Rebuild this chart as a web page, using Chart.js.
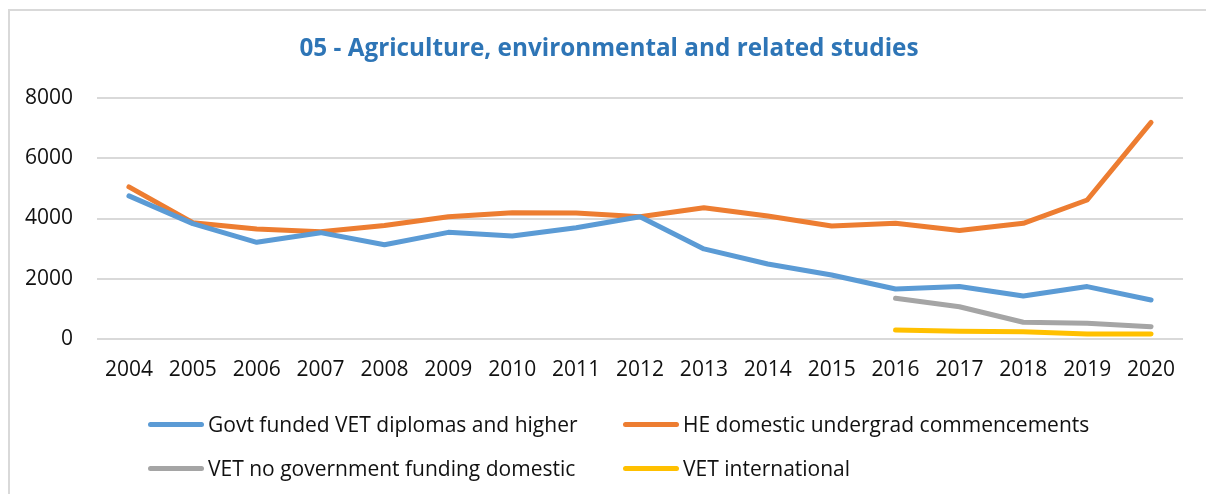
<!DOCTYPE html>
<html>
<head>
<meta charset="utf-8">
<script src="https://cdn.jsdelivr.net/npm/chart.js@4.4.1/dist/chart.umd.min.js"></script>
<style>
  html, body { margin: 0; padding: 0; background: #fff; overflow: hidden; }
  #wrap { position: relative; width: 1206px; height: 494px; }
  #frame { position: absolute; left: 8px; top: 9px; width: 1300px; height: 600px;
           border-left: 2px solid #d9d9d9; border-top: 2px solid #d9d9d9; }
  #chart { position: absolute; left: 0; top: 0; }
  #title { position: absolute; left: 209px; width: 800px; top: 31px; text-align: center;
           font-family: "Open Sans", sans-serif; font-size: 24.3px; font-weight: bold; color: #2E75B6;
           line-height: 32px; white-space: nowrap; }
  .leg { position: absolute; font-family: "Open Sans", sans-serif; font-size: 21px; color: #111;
         display: flex; align-items: center; white-space: nowrap; }
  .leg span.swatch { display: inline-block; width: 56px; height: 5px; border-radius: 3px; margin-right: 4px; }
</style>
</head>
<body>
<div id="wrap">
  <div id="frame"></div>
  <canvas id="chart" width="1206" height="494"></canvas>
  <div id="title"></div>
  <div id="legend"></div>
</div>
<script>
/* ---------------------------------------------------
   data
----------------------------------------------------- */
var chartTitle = "05 - Agriculture, environmental and related studies";
var years = ["2004","2005","2006","2007","2008","2009","2010","2011","2012","2013","2014","2015","2016","2017","2018","2019","2020"];
var govtVet    = [4750, 3830, 3210, 3530, 3130, 3540, 3420, 3695, 4060, 2990, 2490, 2125, 1660, 1740, 1430, 1740, 1295];
var heDomestic = [5050, 3860, 3650, 3560, 3770, 4060, 4190, 4180, 4060, 4360, 4080, 3750, 3840, 3600, 3840, 4615, 7190];
var vetNoGov   = [null, null, null, null, null, null, null, null, null, null, null, null, 1350, 1070, 555, 520, 410];
var vetIntl    = [null, null, null, null, null, null, null, null, null, null, null, null, 300, 255, 240, 170, 165];
var seriesNames  = ["Govt funded VET diplomas and higher", "HE domestic undergrad commencements",
                    "VET no government funding domestic", "VET international"];
var seriesColors = ["#5B9BD5", "#ED7D31", "#A5A5A5", "#FFC000"];
var yTicks = [0, 2000, 4000, 6000, 8000];

/* ---------------------------------------------------
   title + legend (html, legend in two rows like the excel one)
----------------------------------------------------- */
document.getElementById('title').textContent = chartTitle;

var legendPos = [[148, 424], [623, 424], [148, 468], [623, 468]];
var legend = document.getElementById('legend');
for (var i = 0; i < seriesNames.length; i++) {
    var item = document.createElement("div");
    item.className = "leg";
    item.style.left = legendPos[i][0] + "px";
    item.style.top = (legendPos[i][1] - 14) + "px";
    item.innerHTML = "<span class=\"swatch\" style=\"background:" + seriesColors[i] + "\"></span>" + seriesNames[i];
    legend.appendChild(item);
}

/* ---------------------------------------------------
   line chart
----------------------------------------------------- */
function makeSet(n, values) {
    return {
        label: seriesNames[n],
        data: values,
        borderColor: seriesColors[n],
        backgroundColor: seriesColors[n],
        borderWidth: 5,
        borderCapStyle: 'round',
        borderJoinStyle: 'round',
        pointRadius: 0,
        tension: 0,
        spanGaps: false
    };
}

var ctx = document.getElementById("chart").getContext('2d');
var myChart = new Chart(ctx, {
    type: 'line',
    data: {
        labels: years,
        datasets: [makeSet(0, govtVet), makeSet(1, heDomestic), makeSet(2, vetNoGov), makeSet(3, vetIntl)]
    },
    options: {
        responsive: false,
        animation: false,
        devicePixelRatio: 1,
        layout: { padding: { left: 0, right: 23, top: 98, bottom: 115 } },
        plugins: {
            legend: { display: false },
            tooltip: { enabled: false },
            title: { display: false }
        },
        scales: {
            x: {
                offset: true,
                grid: { display: false, drawTicks: false },
                border: { display: false },
                ticks: { color: "#111", font: { family: "Open Sans", size: 21 }, padding: 18, maxRotation: 0 },
                afterFit: function (scale) { scale.height = 40; }
            },
            y: {
                min: 0,
                max: 8000,
                afterBuildTicks: function (scale) {
                    scale.ticks = yTicks.map(function (v) { return { value: v }; });
                },
                grid: { color: "#d9d9d9", lineWidth: 2, drawTicks: false },
                border: { display: false },
                ticks: {
                    color: "#111",
                    font: { family: "Open Sans", size: 21 },
                    padding: 24,
                    callback: function (value) { return String(value); }
                },
                afterFit: function (scale) { scale.width = 97; }
            }
        }
    }
});
</script>
</body>
</html>
